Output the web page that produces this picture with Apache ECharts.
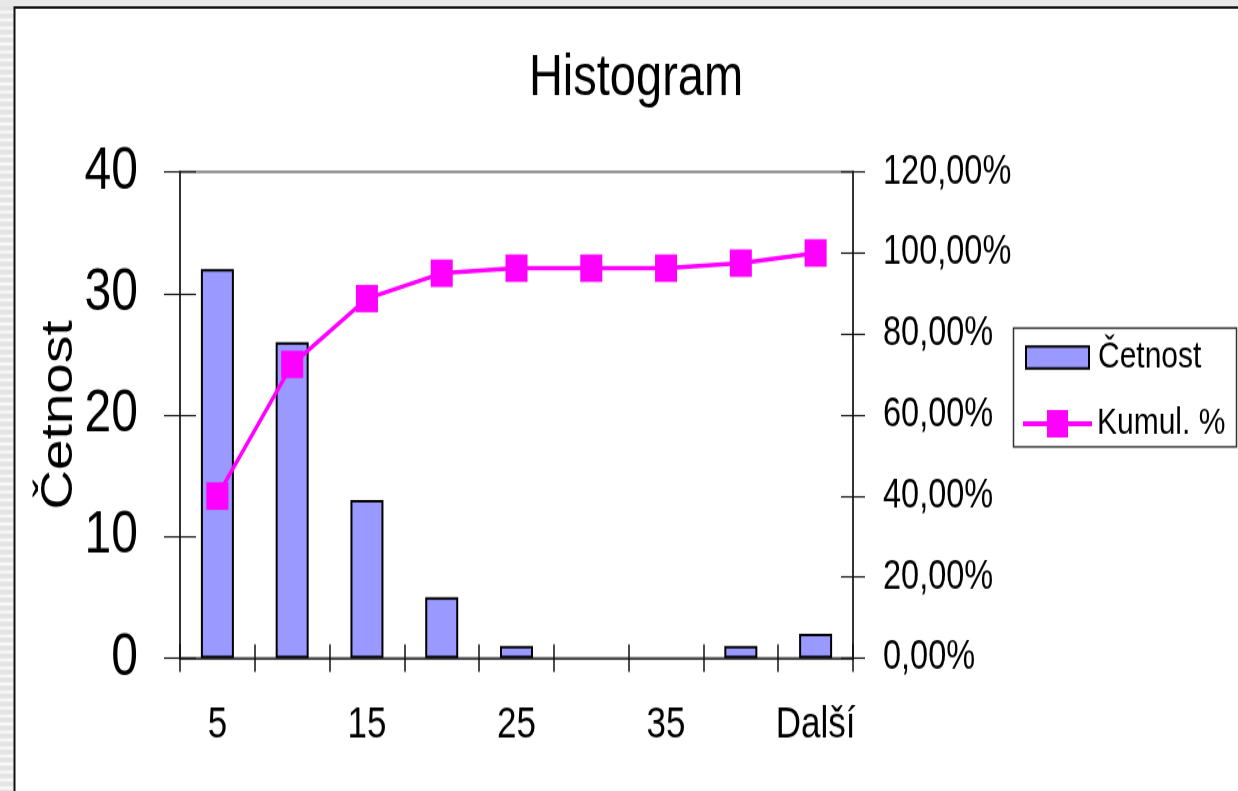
<!DOCTYPE html>
<html><head><meta charset="utf-8">
<script src="https://cdn.jsdelivr.net/npm/echarts@6/dist/echarts.min.js"></script>
<style>
html,body{margin:0;padding:0;background:#fff;overflow:hidden}
#wrap{width:1238px;height:791px;overflow:hidden}
#c{width:1238px;height:633px;transform:scaleY(1.25);transform-origin:0 0}
</style>
</head><body><div id="wrap"><div id="c"></div></div>
<script>
const categories = ['5','10','15','20','25','30','35','40','Další'];
const cetnost = [32, 26, 13, 5, 1, 0, 0, 1, 2];
const kumul = [40.00, 72.50, 88.75, 95.00, 96.25, 96.25, 96.25, 97.50, 100.00];
const leftTicks = {min: 0, max: 40, interval: 10};
const rightTicks = {min: 0, max: 120, interval: 20};

const FONT = "'Liberation Sans', Arial, sans-serif";
const chart = echarts.init(document.getElementById('c'), null, {width: 1238, height: 633});

const deco = [];
deco.push({type:'rect', shape:{x:0,y:0,width:14,height:633}, style:{fill:'#e4e4e4'}, silent:true});
for (let y = 2; y < 633; y += 6.4) {
  deco.push({type:'rect', shape:{x:0,y:y,width:14,height:2.4}, style:{fill:'#f8f8f8'}, silent:true});
}
deco.push({type:'rect', shape:{x:0,y:0,width:1238,height:5}, style:{fill:'#e8e8e8'}, silent:true});
deco.push({type:'rect', shape:{x:14.5,y:6,width:1240,height:700}, style:{fill:'none', stroke:'#111', lineWidth:2}, silent:true});
// legend frame
deco.push({type:'rect', z: 10, shape:{x:1013.5,y:262.4,width:223,height:95.2}, style:{fill:'none', stroke:'#333', lineWidth:1.5}, silent:true});

const fmtPct = v => v.toFixed(2).replace('.', ',') + '%';
const barData = cetnost.map(v => v === 0 ? {value: v, itemStyle: {borderWidth: 0}} : v);

chart.setOption({
  animation: false,
  backgroundColor: '#fff',
  graphic: deco,
  title: {
    text: 'Histogram', left: 631, top: 35, textAlign: 'center',
    textStyle: {fontFamily: FONT, fontSize: 47, fontWeight: 'normal', color: '#000'}
  },
  legend: [{
    orient: 'vertical', left: 1025, top: 271, padding: 0,
    itemWidth: 63, itemHeight: 17.6,
    textStyle: {fontFamily: FONT, fontSize: 30, color: '#000', padding: [0,0,0,4]},
    data: [{name: 'Četnost', icon: 'rect', itemStyle: {borderColor: '#000', borderWidth: 2}}]
  }, {
    orient: 'vertical', left: 1023, top: 324, padding: 0,
    itemWidth: 69, itemHeight: 22,
    textStyle: {fontFamily: FONT, fontSize: 30, color: '#000'},
    data: [{name: 'Kumul. %', icon: 'path://M0,9h24v-9h21v9h24v4h-24v9h-21v-9h-24z'}]
  }],
  grid: {left: 180, right: 385, top: 137.6, bottom: 106.6, show: true, borderColor: '#808080', borderWidth: 2, backgroundColor: '#fff', containLabel: false, outerBoundsMode: 'none'},
  xAxis: [{
    type: 'category', data: categories, position: 'bottom',
    axisLine: {lineStyle: {color: '#333', width: 1.6}},
    axisTick: {show: true, interval: 0, length: 11, lineStyle: {color: '#111', width: 1.5}},
    axisLabel: {interval: 1, margin: 36, fontFamily: FONT, fontSize: 35, color: '#000'}
  }, {
    type: 'category', data: categories, position: 'bottom',
    axisLine: {show: false},
    axisTick: {show: true, inside: true, interval: 0, length: 11, lineStyle: {color: '#111', width: 1.5}},
    axisLabel: {show: false}
  }],
  yAxis: [{
    type: 'value', position: 'left', min: leftTicks.min, max: leftTicks.max, interval: leftTicks.interval,
    name: 'Četnost', nameLocation: 'middle', nameGap: 98, nameRotate: 90, nameMoveOverlap: false,
    nameTextStyle: {fontFamily: FONT, fontSize: 44, color: '#000'},
    axisLine: {show: true, lineStyle: {color: '#333', width: 2}},
    axisTick: {show: true, length: 16, lineStyle: {color: '#111', width: 1.2}},
    splitLine: {show: false},
    axisLabel: {margin: 42, fontFamily: FONT, fontSize: 48, color: '#000'}
  }, {
    type: 'value', position: 'right', min: rightTicks.min, max: rightTicks.max, interval: rightTicks.interval,
    axisLine: {show: true, lineStyle: {color: '#333', width: 2}},
    axisTick: {show: true, length: 12, lineStyle: {color: '#111', width: 1.2}},
    splitLine: {show: false},
    axisLabel: {margin: 30, fontFamily: FONT, fontSize: 32.5, color: '#000', formatter: fmtPct}
  }, {
    type: 'value', position: 'left', min: leftTicks.min, max: leftTicks.max, interval: leftTicks.interval,
    axisLine: {show: false}, splitLine: {show: false}, axisLabel: {show: false},
    axisTick: {show: true, inside: true, length: 16, lineStyle: {color: '#111', width: 1.2}}
  }, {
    type: 'value', position: 'right', min: rightTicks.min, max: rightTicks.max, interval: rightTicks.interval,
    axisLine: {show: false}, splitLine: {show: false}, axisLabel: {show: false},
    axisTick: {show: true, inside: true, length: 12, lineStyle: {color: '#111', width: 1.2}}
  }],
  series: [{
    name: 'Četnost', type: 'bar', data: barData, yAxisIndex: 0, xAxisIndex: 0,
    barWidth: 33,
    itemStyle: {color: '#9999FF', borderColor: '#000', borderWidth: 2}
  }, {
    name: 'Kumul. %', type: 'line', data: kumul, yAxisIndex: 1, xAxisIndex: 0,
    symbol: 'rect', symbolSize: 22,
    lineStyle: {color: '#FF00FF', width: 3.5},
    itemStyle: {color: '#FF00FF'}
  }]
});
</script></body></html>
